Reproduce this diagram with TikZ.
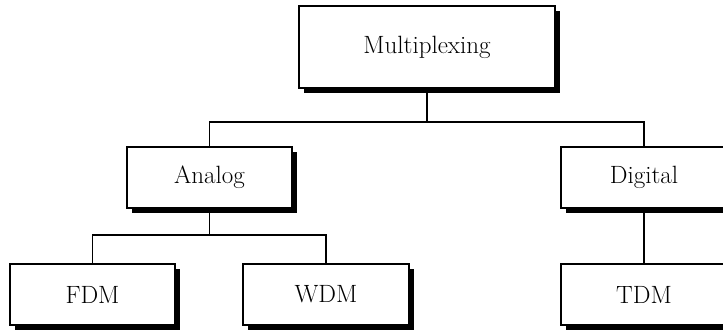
\documentclass[tikz,border=0pt]{standalone}
\usetikzlibrary{shadows}
\begin{document}
\begin{tikzpicture}[x=1pt,y=-1pt,
  box/.style={draw=black, line width=1.2pt, fill=white, rectangle, inner sep=0pt,
    minimum width=165pt, minimum height=61pt,
    font=\fontsize{25}{30}\selectfont,
    drop shadow={shadow xshift=5pt, shadow yshift=-5pt, fill=black, opacity=1}},
  conn/.style={line width=1.4pt, draw=black}]
\useasboundingbox (0,0) rectangle (723,330);
\clip (0,0) rectangle (723,330);
\node[box, minimum width=256pt, minimum height=82pt] (mult) at (427,47) {Multiplexing};
\node[box] (analog) at (209.5,177.5) {Analog};
\node[box, minimum width=166pt] (digital) at (644,177.5) {Digital};
\node[box] (fdm) at (92.5,294.5) {FDM};
\node[box, minimum width=166pt] (wdm) at (326,294.5) {WDM};
\node[box, minimum width=166pt] (tdm) at (644,294.5) {TDM};
\coordinate (j1) at (427,122);
\coordinate (j2) at (209.5,235);
\draw[conn] (mult.south) -- (j1);
\draw[conn] (analog.north) |- (j1) -| (digital.north);
\draw[conn] (analog.south) -- (j2);
\draw[conn] (fdm.north) |- (j2) -| (wdm.north);
\draw[conn] (digital.south) -- (tdm.north);
\end{tikzpicture}
\end{document}
